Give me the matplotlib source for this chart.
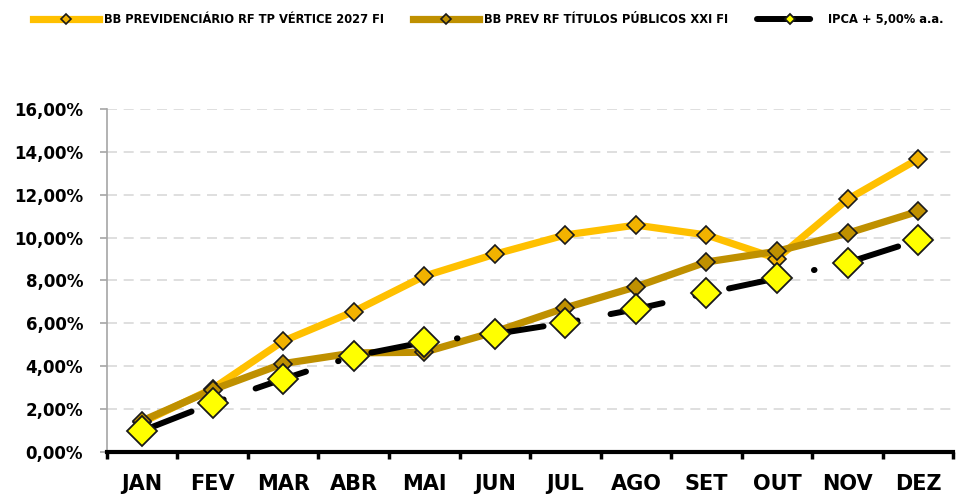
import matplotlib.pyplot as plt
import numpy as np
from matplotlib.ticker import FuncFormatter, FixedLocator

# month labels and monthly accumulated returns (%)
months = ["JAN", "FEV", "MAR", "ABR", "MAI", "JUN", "JUL", "AGO", "SET", "OUT", "NOV", "DEZ"]
vertice_2027 = [1.38, 2.95, 5.17, 6.55, 8.20, 9.22, 10.12, 10.58, 10.12, 9.02, 11.78, 13.66]
titulos_xxi = [1.45, 2.90, 4.12, 4.62, 4.65, 5.60, 6.72, 7.70, 8.86, 9.36, 10.20, 11.22]
ipca_5 = [0.98, 2.27, 3.40, 4.47, 5.12, 5.50, 6.02, 6.66, 7.40, 8.10, 8.83, 9.88]

names = ["BB PREVIDENCIÁRIO RF TP VÉRTICE 2027 FI",
         "BB PREV RF TÍTULOS PÚBLICOS XXI FI",
         "IPCA + 5,00% a.a."]

plt.rcParams['font.family'] = ['DejaVu Sans']

fig = plt.figure(figsize=(9.62, 4.95), dpi=100)
ax = fig.add_axes([0.111, 0.087, 0.880, 0.693])

x = np.arange(len(months))

ax.plot(x, vertice_2027, color="#FFC000", lw=5.2, marker="D", ms=9.5,
        mfc="#F2B200", mec="#1a1a1a", mew=1.2, label=names[0], zorder=3)
ax.plot(x, titulos_xxi, color="#BF9000", lw=5.2, marker="D", ms=9.5,
        mfc="#BF9000", mec="#1a1a1a", mew=1.2, label=names[1], zorder=4)
ax.plot(x, ipca_5, color="black", lw=4.3, marker="D", ms=15.5,
        mfc="#FFFF00", mec="#1a1a1a", mew=1.3, label=names[2], zorder=5,
        linestyle=(0, (8.9, 5.65, 0.1, 5.65)), dash_capstyle="round",
        solid_capstyle="round")

ax.set_xlim(-0.5, 11.5)
ax.set_ylim(0, 16)

ax.yaxis.set_major_locator(FixedLocator(np.arange(0, 17, 2)))
ax.yaxis.set_major_formatter(FuncFormatter(lambda v, p: f"{v:.2f}%".replace(".", ",")))
ax.grid(axis="y", color="#D9D9D9", lw=1.2, linestyle=(0, (6, 4)))
ax.set_axisbelow(True)

ax.set_xticks(x)
ax.set_xticklabels(months)
ax.set_xticks(np.arange(-0.5, 12, 1), minor=True)
ax.tick_params(axis="x", which="major", length=0, pad=16, labelsize=15)
ax.tick_params(axis="x", which="minor", length=5, width=2.5, color="black", direction="out")
ax.tick_params(axis="y", length=5, width=1.2, color="#A6A6A6", pad=12, labelsize=12)
for lbl in ax.get_xticklabels() + ax.get_yticklabels():
    lbl.set_fontweight("bold")

for s in ["top", "right"]:
    ax.spines[s].set_visible(False)
ax.spines["left"].set_color("#A6A6A6")
ax.spines["left"].set_linewidth(1.2)
ax.spines["bottom"].set_color("black")
ax.spines["bottom"].set_linewidth(3)
ax.spines["bottom"].set_zorder(6)

leg = fig.legend(loc="upper left", bbox_to_anchor=(0.024, 0.995), ncol=3, frameon=False,
                 handlelength=5.7, handletextpad=0.45, columnspacing=2.5,
                 prop={"weight": "bold", "size": 8.3})
for h in leg.legend_handles:
    h.set_markersize(5.5)

fig.savefig("out.png", dpi=100)
